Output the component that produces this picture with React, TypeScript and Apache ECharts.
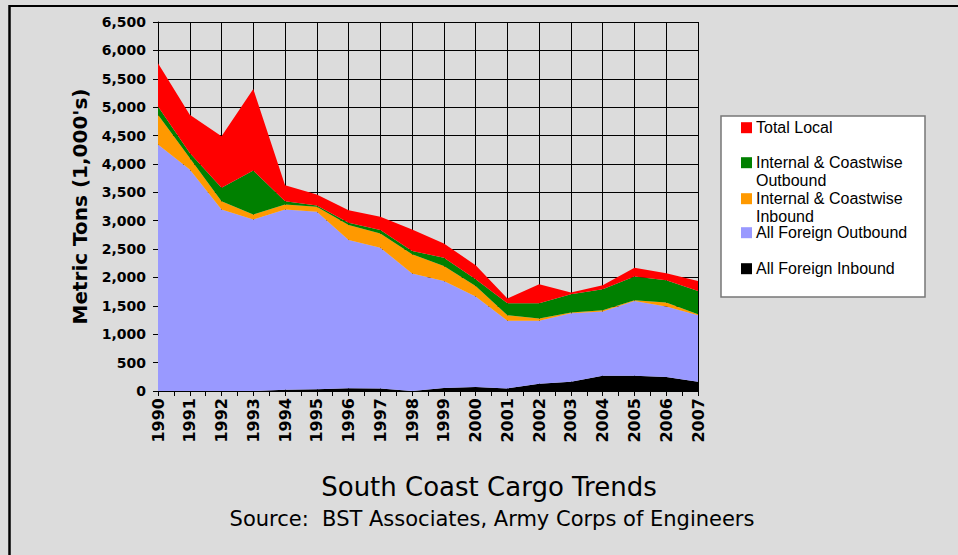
import React, { useEffect, useRef } from 'react';
import * as echarts from 'echarts';

const years = ['1990', '1991', '1992', '1993', '1994', '1995', '1996', '1997', '1998', '1999', '2000', '2001', '2002', '2003', '2004', '2005', '2006', '2007'];

const seriesNames = [
  'All Foreign Inbound',
  'All Foreign Outbound',
  'Internal & Coastwise Inbound',
  'Internal & Coastwise Outbound',
  'Total Local',
];

const foreignInbound = [0, 0, 0, 0, 20, 30, 50, 45, 0, 53, 70, 46, 128, 163, 269, 269, 246, 163];
const foreignOutbound = [4340, 3900, 3198, 3022, 3178, 3127, 2609, 2480, 2068, 1885, 1594, 1190, 1108, 1207, 1131, 1318, 1242, 1172];
const coastwiseInbound = [527, 206, 146, 88, 88, 88, 263, 251, 339, 264, 186, 99, 41, 12, 23, 12, 70, 18];
const coastwiseOutbound = [146, 88, 235, 773, 58, 23, 42, 58, 58, 147, 118, 211, 269, 322, 369, 416, 392, 409];
const totalLocal = [762, 673, 907, 1435, 281, 193, 222, 235, 381, 251, 246, 83, 334, 30, 70, 158, 123, 176];

const seriesValues = [foreignInbound, foreignOutbound, coastwiseInbound, coastwiseOutbound, totalLocal];
const seriesColors = ['#000000', '#9999FF', '#FF9900', '#008000', '#FF0000'];

// legend shown top-to-bottom (reverse of stacking order), with wrapped lines
const legendOrder = [4, 3, 2, 1, 0];
const legendLines = [
  ['Total Local'],
  ['Internal & Coastwise', 'Outbound'],
  ['Internal & Coastwise', 'Inbound'],
  ['All Foreign Outbound'],
  ['All Foreign Inbound'],
];
const legendRowCenters = [127.7, 162.7, 198.7, 232.7, 268.7];

const yMin = 0;
const yMax = 6500;
const yStep = 500;

const titleText = 'South Coast Cargo Trends';
const sourceText = 'Source:  BST Associates, Army Corps of Engineers';
const yAxisTitle = "Metric Tons (1,000's)";

export default function App() {
  const ref = useRef<HTMLDivElement>(null);

  useEffect(() => {
    if (!ref.current) return;
    const chart = echarts.init(ref.current, null, { renderer: 'svg' });

    const legendGraphics: any[] = [
      {
        type: 'rect',
        shape: { x: 721, y: 116, width: 204, height: 181 },
        style: { fill: '#ffffff', stroke: '#777777', lineWidth: 1.5 },
        z: 10,
      },
    ];
    legendOrder.forEach((si, row) => {
      const cy = legendRowCenters[row];
      legendGraphics.push({
        type: 'rect',
        shape: { x: 741, y: cy - 5.5, width: 11, height: 11 },
        style: { fill: seriesColors[si] },
        z: 11,
      });
      legendGraphics.push({
        type: 'text',
        x: 756,
        y: cy - 9,
        style: {
          text: legendLines[row].join('\n'),
          fontFamily: '"Liberation Sans", Arial, sans-serif',
          fontSize: 16,
          lineHeight: 18,
          fill: '#000',
          align: 'left',
          verticalAlign: 'top',
        },
        z: 11,
      });
    });

    const firstYear = Number(years[0]);
    const lastYear = Number(years[years.length - 1]);

    const option: any = {
      animation: false,
      backgroundColor: '#dcdcdc',
      grid: { left: 158, top: 22, right: 260, bottom: 164, containLabel: false },
      xAxis: [
        {
          type: 'category',
          data: years,
          boundaryGap: false,
          axisLine: { show: true, lineStyle: { color: '#000', width: 1 } },
          axisTick: { show: false },
          splitLine: { show: true, interval: 0, lineStyle: { color: '#000', width: 1 } },
          axisLabel: {
            interval: 0,
            rotate: 90,
            margin: 7,
            fontFamily: '"DejaVu Sans", sans-serif',
            fontWeight: 'bold',
            fontSize: 16,
            color: '#000',
          },
        },
        {
          // tick marks at every year and half year
          type: 'value',
          position: 'bottom',
          min: firstYear,
          max: lastYear,
          interval: 0.5,
          axisLine: { show: false },
          axisTick: { show: true, length: 5, inside: false, lineStyle: { color: '#000' } },
          splitLine: { show: false },
          axisLabel: { show: false },
        },
      ],
      yAxis: {
        type: 'value',
        min: yMin,
        max: yMax,
        interval: yStep,
        name: yAxisTitle,
        nameLocation: 'middle',
        nameGap: 68,
        nameTextStyle: {
          fontFamily: '"DejaVu Sans", sans-serif',
          fontWeight: 'bold',
          fontSize: 20,
          color: '#000',
        },
        axisLine: { show: true, lineStyle: { color: '#000', width: 1 } },
        axisTick: { show: true, length: 5, inside: false, lineStyle: { color: '#000' } },
        splitLine: { show: true, lineStyle: { color: '#000', width: 1 } },
        axisLabel: {
          margin: 12,
          formatter: (v: number) => v.toLocaleString('en-US'),
          fontFamily: '"DejaVu Sans", sans-serif',
          fontWeight: 'bold',
          fontSize: 14,
          color: '#000',
        },
      },
      series: seriesValues.map((vals, i) => ({
        name: seriesNames[i],
        type: 'line',
        stack: 'total',
        xAxisIndex: 0,
        data: vals,
        symbol: 'none',
        showSymbol: false,
        lineStyle: { width: 0, color: seriesColors[i] },
        itemStyle: { color: seriesColors[i] },
        areaStyle: { color: seriesColors[i], opacity: 1 },
        z: 2 + i,
      })),
      graphic: [
        {
          type: 'line',
          shape: { x1: 9.5, y1: 6, x2: 958, y2: 6 },
          style: { stroke: '#000', lineWidth: 2 },
        },
        {
          type: 'line',
          shape: { x1: 9.5, y1: 5, x2: 9.5, y2: 555 },
          style: { stroke: '#000', lineWidth: 2.5 },
        },
        {
          type: 'text',
          x: 489,
          y: 487,
          style: {
            text: titleText,
            fontFamily: '"DejaVu Sans", sans-serif',
            fontSize: 26,
            fill: '#000',
            align: 'center',
            verticalAlign: 'middle',
          },
        },
        {
          type: 'text',
          x: 492,
          y: 519,
          style: {
            text: sourceText,
            fontFamily: '"DejaVu Sans", sans-serif',
            fontSize: 21,
            fill: '#000',
            align: 'center',
            verticalAlign: 'middle',
          },
        },
        ...legendGraphics,
      ],
    };

    chart.setOption(option);
    return () => chart.dispose();
  }, []);

  return (
    <div
      ref={ref}
      style={{ position: 'fixed', left: 0, top: 0, width: 958, height: 555 }}
    />
  );
}
